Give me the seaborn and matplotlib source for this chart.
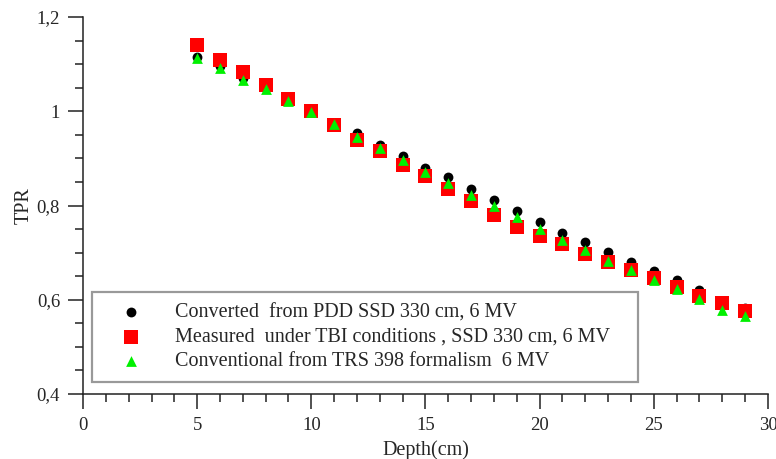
import matplotlib
matplotlib.use("Agg")
import matplotlib.pyplot as plt
import seaborn as sns
import numpy as np
import pandas as pd
from matplotlib.ticker import MultipleLocator, FuncFormatter

# ---- data ----
depth = [5, 6, 7, 8, 9, 10, 11, 12, 13, 14, 15, 16, 17, 18, 19, 20, 21, 22, 23, 24, 25, 26, 27, 28, 29]
converted = [1.116, 1.096, 1.070, 1.050, 1.024, 1.000, 0.974, 0.953, 0.929, 0.904, 0.880, 0.860, 0.835,
             0.812, 0.788, 0.765, 0.742, 0.722, 0.702, 0.680, 0.661, 0.641, 0.620, 0.598, 0.583]
measured = [1.141, 1.109, 1.083, 1.055, 1.027, 1.000, 0.970, 0.940, 0.915, 0.887, 0.863, 0.835, 0.809,
            0.780, 0.754, 0.736, 0.718, 0.698, 0.680, 0.663, 0.647, 0.627, 0.608, 0.593, 0.576]
trs398 = [1.114, 1.092, 1.067, 1.048, 1.021, 0.998, 0.972, 0.946, 0.922, 0.897, 0.872, 0.847, 0.823,
          0.800, 0.776, 0.750, 0.727, 0.706, 0.682, 0.663, 0.641, 0.622, 0.601, 0.579, 0.565]
labels = ["Converted  from PDD SSD 330 cm, 6 MV",
          "Measured  under TBI conditions , SSD 330 cm, 6 MV",
          "Conventional from TRS 398 formalism  6 MV"]
x_label = "Depth(cm)"
y_label = "TPR"

sns.set_theme(style="white")
plt.rcParams['font.family'] = ['Liberation Serif', 'DejaVu Serif']

fig = plt.figure(figsize=(7.76, 4.59), dpi=100)
ax = fig.add_axes([83/776, 1-394/459, (768-83)/776, (394-17)/459])

series = [(converted, labels[0], 'o', 'black', 50),
          (measured, labels[1], 's', '#ff0000', 90),
          (trs398, labels[2], '^', '#00f000', 60)]
for vals, lab, mk, col, sz in series:
    df = pd.DataFrame({"Depth": depth, "TPR": vals})
    sns.scatterplot(data=df, x="Depth", y="TPR", ax=ax, marker=mk, color=col,
                    s=sz, linewidth=0, label=lab)

ax.set_xlim(0, 30)
ax.set_ylim(0.4, 1.2)
ax.xaxis.set_major_locator(MultipleLocator(5))
ax.xaxis.set_minor_locator(MultipleLocator(1))
ax.yaxis.set_major_locator(MultipleLocator(0.2))
ax.yaxis.set_minor_locator(MultipleLocator(0.05))

def yfmt(v, pos):
    s = f"{v:.1f}".rstrip('0').rstrip('.')
    return s.replace('.', ',')
ax.yaxis.set_major_formatter(FuncFormatter(yfmt))

for side in ['top', 'right']:
    ax.spines[side].set_visible(False)
for side in ['left', 'bottom']:
    ax.spines[side].set_color('#222222')
    ax.spines[side].set_linewidth(1.1)

ax.tick_params(which='major', direction='out', length=10.5, width=1.1, color='#222222',
               labelsize=13.5, pad=6, left=True, bottom=True)
ax.tick_params(which='minor', direction='out', length=6, width=1.1, color='#222222',
               left=True, bottom=True)

ax.set_xlabel(x_label, fontsize=14.5, labelpad=0)
ax.set_ylabel(y_label, fontsize=14.5, labelpad=3)
ax.xaxis.set_label_coords(0.5, -(440-394)/377)
ax.yaxis.set_label_coords(-(83-34)/685, 0.5)

leg = ax.legend(loc='lower left',
                bbox_to_anchor=((92-83)/685, (394-382)/377, (638-92)/685, 0.2),
                mode='expand', borderaxespad=0, fontsize=14.5, frameon=True,
                fancybox=False, edgecolor='#808080', labelspacing=0.25,
                borderpad=0.55, handlelength=2.8, handletextpad=0.75)
leg.get_frame().set_linewidth(1.6)

fig.savefig("out.png", dpi=100)
